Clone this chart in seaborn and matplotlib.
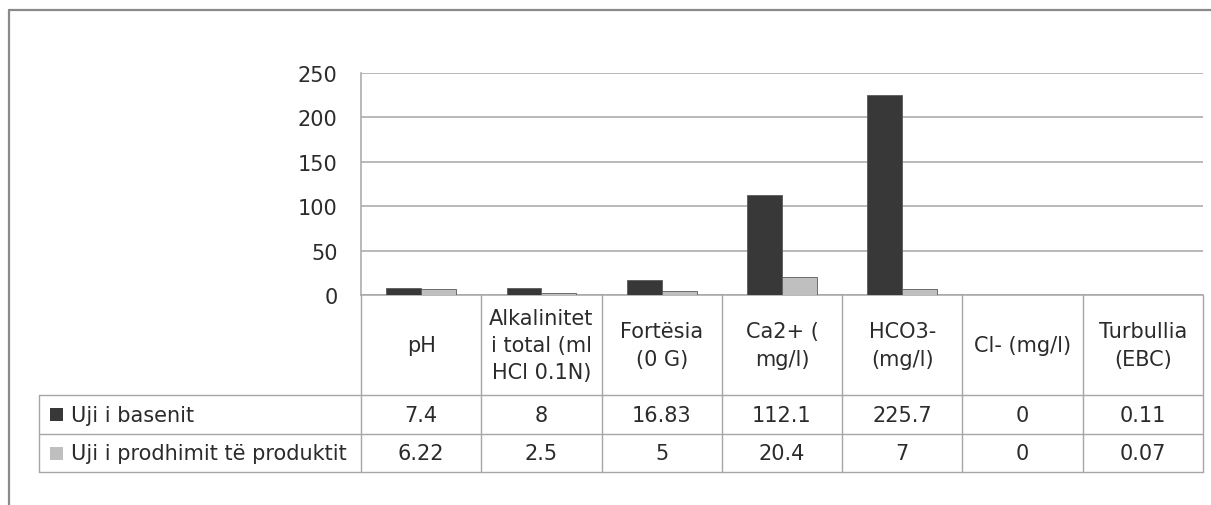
import matplotlib
matplotlib.use("Agg")
import matplotlib.pyplot as plt
import matplotlib.transforms as mtransforms
from matplotlib.lines import Line2D
from matplotlib.patches import Rectangle
import seaborn as sns
import pandas as pd

# ---- data ----
categories = ["pH", "Alkalinitet\ni total (ml\nHCl 0.1N)", "Fortësia\n(0 G)",
              "Ca2+ (\nmg/l)", "HCO3-\n(mg/l)", "Cl- (mg/l)", "Turbullia\n(EBC)"]
series_names = ["Uji i basenit", "Uji i prodhimit të produktit"]
basenit = [7.4, 8, 16.83, 112.1, 225.7, 0, 0.11]
produktit = [6.22, 2.5, 5, 20.4, 7, 0, 0.07]
yticks = [0, 50, 100, 150, 200, 250]

colors = ["#383838", "#bfbfbf"]
text_color = "#2b2b2b"
line_color = "#a6a6a6"
fs = 15

sns.set_style("white")
plt.rcParams["font.family"] = ["DejaVu Sans"]

W, H = 1211, 506
fig = plt.figure(figsize=(W / 100, H / 100), dpi=100)

def fx(px):
    return px / W

def fy(px):
    return 1 - px / H

ax = fig.add_axes([fx(361), fy(296), fx(1203) - fx(361), fy(74) - fy(296)])

df = pd.DataFrame({
    "param": categories * 2,
    "value": basenit + produktit,
    "series": [series_names[0]] * len(categories) + [series_names[1]] * len(categories),
})

sns.barplot(data=df, x="param", y="value", hue="series", order=categories,
            hue_order=series_names, palette=colors, width=0.58,
            edgecolor="#5a5a5a", linewidth=0.6, legend=False, ax=ax, zorder=3)

ax.set_xlim(-0.5, len(categories) - 0.5)
ax.set_ylim(0, 250)
ax.set_yticks(yticks)
ax.set_yticklabels([str(t) for t in yticks])
ax.set_xticks([])
ax.set_xlabel("")
ax.set_ylabel("")
ax.tick_params(axis="y", length=0, pad=17, labelsize=fs, labelcolor=text_color)
ax.grid(axis="y", color=line_color, linewidth=1.1, zorder=0)
ax.set_axisbelow(True)
for s in ["top", "right"]:
    ax.spines[s].set_visible(False)
for s in ["left", "bottom"]:
    ax.spines[s].set_color(line_color)
    ax.spines[s].set_linewidth(1.1)

# ---- data table below the axis ----
tr = mtransforms.blended_transform_factory(ax.transData, fig.transFigure)
n = len(categories)
tbl_lw = 1.0
# vertical column lines
for i in range(n + 1):
    fig.add_artist(Line2D([i - 0.5, i - 0.5], [fy(296), fy(473)], transform=tr,
                          color=line_color, lw=tbl_lw))
# horizontal row lines
x_right = ax.get_position().x1
for ypx in [396, 435, 473]:
    fig.add_artist(Line2D([fx(39), x_right], [fy(ypx), fy(ypx)],
                          transform=fig.transFigure, color=line_color, lw=tbl_lw))
fig.add_artist(Line2D([fx(39), fx(39)], [fy(396), fy(473)],
                      transform=fig.transFigure, color=line_color, lw=tbl_lw))

# header labels
for i, cat in enumerate(categories):
    fig.text(i, fy(346), cat, transform=tr, ha="center", va="center",
             multialignment="center", fontsize=fs, color=text_color, linespacing=1.45)

# row values + legend keys
rows = [basenit, produktit]
row_centers = [415.5, 454]
for r, (vals, name, col, yc) in enumerate(zip(rows, series_names, colors, row_centers)):
    for i, v in enumerate(vals):
        fig.text(i, fy(yc), f"{v:g}", transform=tr, ha="center", va="center",
                 fontsize=fs, color=text_color)
    fig.add_artist(Rectangle((fx(50), fy(yc + 6.5)), fx(13), 13 / H,
                             transform=fig.transFigure, facecolor=col, edgecolor="none"))
    fig.text(fx(71), fy(yc), name, ha="left", va="center", fontsize=fs, color=text_color)

# ---- outer frame ----
frame_c = "#8a8a8a"
fig.add_artist(Line2D([fx(9), 1], [fy(11), fy(11)], transform=fig.transFigure,
                      color=frame_c, lw=1.6))
fig.add_artist(Line2D([fx(9), fx(9)], [fy(11), 0], transform=fig.transFigure,
                      color=frame_c, lw=1.6))

fig.savefig("out.png", dpi=100, facecolor="white")
